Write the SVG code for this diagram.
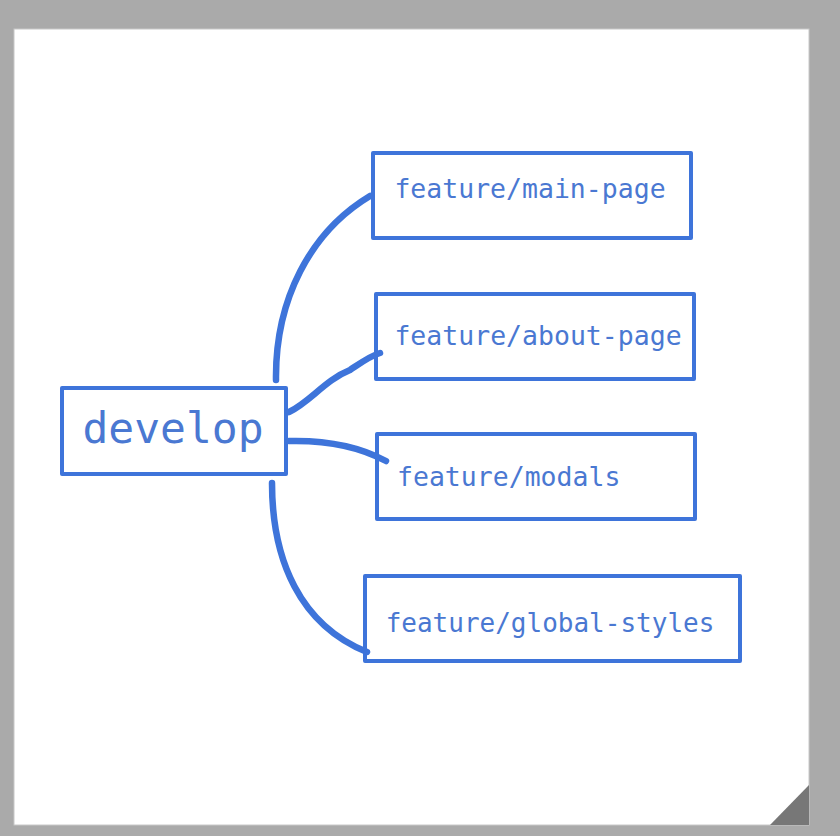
<svg xmlns="http://www.w3.org/2000/svg" width="840" height="836" viewBox="0 0 840 836">
<style>
.box{fill:#ffffff;stroke:#3e74da;stroke-width:4;stroke-linejoin:round}
.lbl{font-family:"DejaVu Sans Mono","Liberation Mono",monospace;fill:#4a78d2}
.con{fill:none;stroke:#3e74da;stroke-width:6.5;stroke-linecap:round}
</style>
<rect x="0" y="0" width="840" height="836" fill="#aaaaaa"/>
<rect x="14" y="29" width="795" height="796" fill="#ffffff" stroke="#c8c8c8" stroke-width="1"/>
<polygon points="770,825 809,785 809,825" fill="#777777"/>
<g id="develop">
<rect class="box" x="62" y="388" width="224" height="86"/>
<text class="lbl" x="173" y="443" font-size="43" text-anchor="middle">develop</text>
</g>
<g id="main-page">
<rect class="box" x="373" y="153" width="318" height="85"/>
<text class="lbl" x="530" y="198" font-size="26.5" text-anchor="middle">feature/main-page</text>
</g>
<g id="about-page">
<rect class="box" x="376" y="294" width="318" height="85"/>
<text class="lbl" x="538" y="345" font-size="26.5" text-anchor="middle">feature/about-page</text>
</g>
<g id="modals">
<rect class="box" x="377" y="434" width="318" height="85"/>
<text class="lbl" x="397" y="486" font-size="26.5">feature/modals</text>
</g>
<g id="global-styles">
<rect class="box" x="365" y="576" width="375" height="85"/>
<text class="lbl" x="550" y="632" font-size="26" text-anchor="middle">feature/global-styles</text>
</g>
<g id="connectors">
<path class="con" d="M276,380 C275,300 310,232 370,196"/>
<path class="con" d="M289,412 C310,402 325,380 350,370 C362,362 370,356 380,353"/>
<path class="con" d="M289,441 C330,440 362,448 386,461"/>
<path class="con" d="M272,483 C272,560 300,625 367,652"/>
</g>
</svg>
